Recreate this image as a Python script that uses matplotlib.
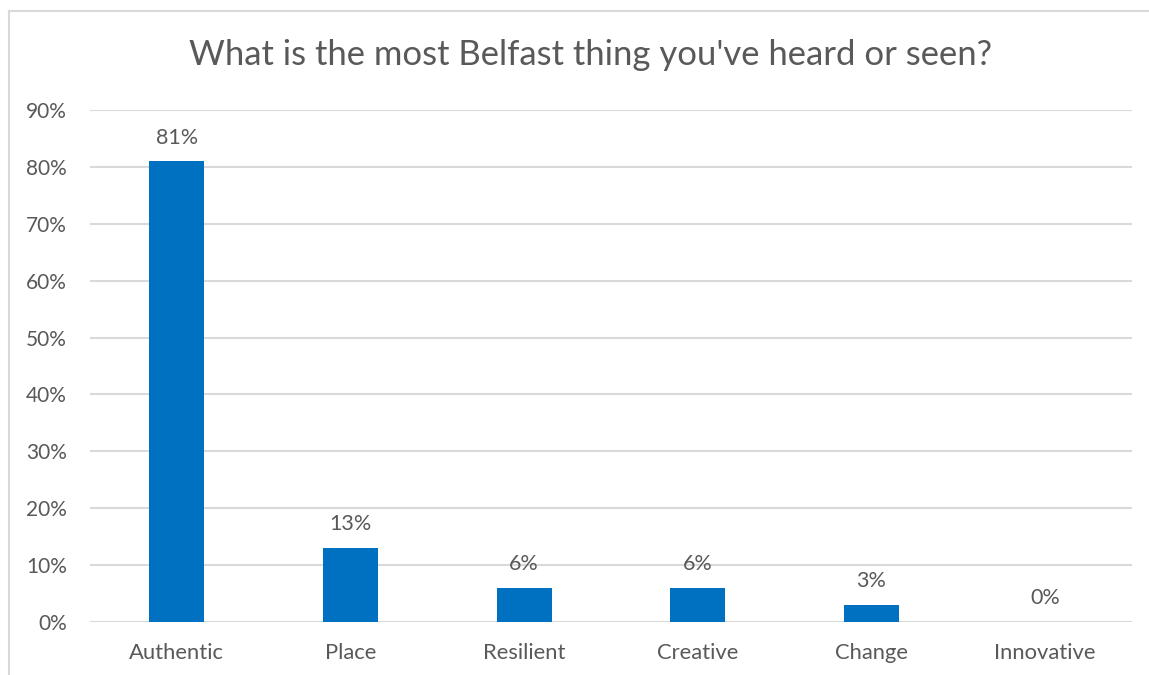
import matplotlib.pyplot as plt
from matplotlib.lines import Line2D

# Survey results
categorias = ['Authentic', 'Place', 'Resilient', 'Creative', 'Change', 'Innovative']
valores = [81, 13, 6, 6, 3, 0]
ticks_y = [0, 10, 20, 30, 40, 50, 60, 70, 80, 90]
titulo = "What is the most Belfast thing you've heard or seen?"

color_barra = '#0070C0'
color_texto = '#595959'
color_grid = '#D9D9D9'

plt.rcParams['font.family'] = ['Lato', 'DejaVu Sans']

fig = plt.figure(figsize=(11.49, 6.75), dpi=100)
ax = fig.add_axes([0.0783, 0.0785, 0.9069, 0.7585])

x = range(len(categorias))
barras = ax.bar(x, valores, width=0.316, color=color_barra, zorder=3)

for xi, v in zip(x, valores):
    ax.annotate(f'{v}%', (xi, v), xytext=(0, 17), textcoords='offset points',
                ha='center', va='center', fontsize=15.5, color=color_texto)

ax.set_xlim(-0.5, len(categorias) - 0.5)
ax.set_ylim(0, 90)
ax.set_yticks(ticks_y)
ax.set_yticklabels([f'{t}%' for t in ticks_y])
ax.set_xticks(list(x))
ax.set_xticklabels(categorias)
ax.tick_params(axis='both', length=0, labelcolor=color_texto)
ax.tick_params(axis='y', pad=16.5, labelsize=15)
ax.tick_params(axis='x', pad=15, labelsize=15.8)
ax.grid(axis='y', color=color_grid, linewidth=1.5, zorder=0)
for s in ax.spines.values():
    s.set_visible(False)

fig.text(0.514, 0.919, titulo, ha='center', va='center', fontsize=24.9, color=color_texto)

# Chart frame (top and left edges)
fig.add_artist(Line2D([0.0078, 1.0], [0.9837, 0.9837], color=color_grid, linewidth=1.5))
fig.add_artist(Line2D([0.0078, 0.0078], [0.0, 0.9837], color=color_grid, linewidth=1.5))

fig.savefig('out.png', dpi=100)
